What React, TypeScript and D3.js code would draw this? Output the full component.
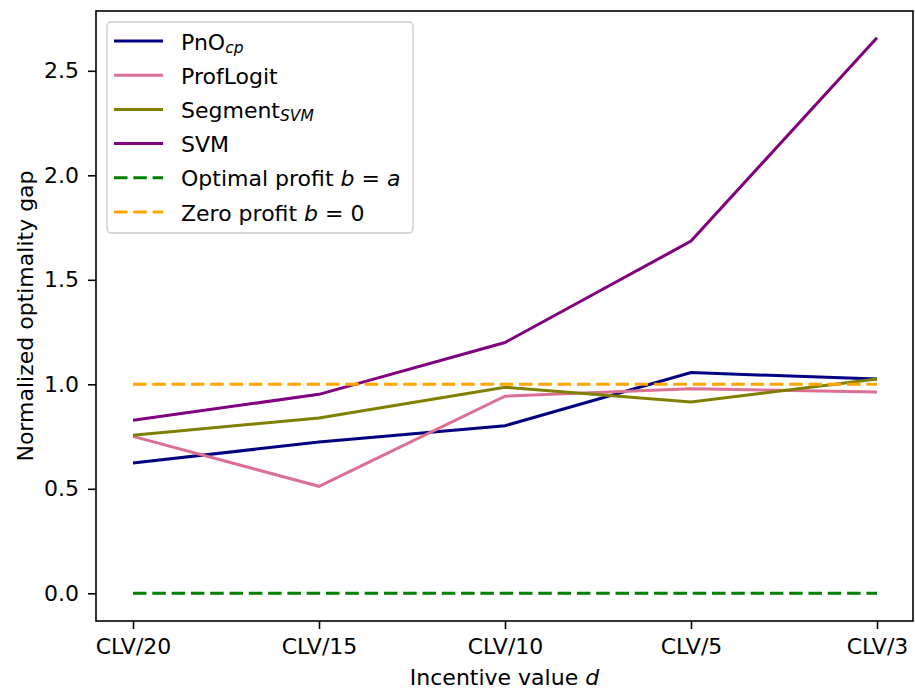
import React, { useEffect, useRef } from 'react';
import * as d3 from 'd3';

const categories = ['CLV/20', 'CLV/15', 'CLV/10', 'CLV/5', 'CLV/3'];
const pnoCp = [0.623, 0.724, 0.802, 1.056, 1.025];
const profLogit = [0.751, 0.512, 0.943, 0.979, 0.963];
const segmentSvm = [0.756, 0.839, 0.986, 0.915, 1.025];
const svm = [0.828, 0.952, 1.2, 1.685, 2.658];
const optimalProfit = [0, 0, 0, 0, 0];
const zeroProfit = [1, 1, 1, 1, 1];
const yTicks = [0, 0.5, 1, 1.5, 2, 2.5];

const series = [
  { name: 'PnO', sub: 'cp', values: pnoCp, color: '#000080', dashed: false },
  { name: 'ProfLogit', sub: '', values: profLogit, color: '#db7093', dashed: false },
  { name: 'Segment', sub: 'SVM', values: segmentSvm, color: '#808000', dashed: false },
  { name: 'SVM', sub: '', values: svm, color: '#800080', dashed: false },
  { name: 'Optimal profit ', math: 'b = a', values: optimalProfit, color: '#008000', dashed: true },
  { name: 'Zero profit ', math: 'b = 0', values: zeroProfit, color: '#ffa500', dashed: true },
];

const App = () => {
  const ref = useRef<SVGSVGElement>(null);
  const width = 915;
  const height = 689;
  const margin = { top: 11, right: 2, bottom: 68, left: 96 };

  useEffect(() => {
    const svg = d3.select(ref.current);
    svg.selectAll('*').remove();
    const font = 'DejaVu Sans, sans-serif';
    const fs = 22;

    const x = d3.scalePoint()
      .domain(categories)
      .range([133, 877]);
    const y = d3.scaleLinear()
      .domain([0, 1])
      .range([593.3, 384.3]);

    const x0 = margin.left;
    const x1 = width - margin.right;
    const y0 = height - margin.bottom;
    const y1 = margin.top;

    // lines
    const line = d3.line<number>()
      .x((_, i) => x(categories[i]) as number)
      .y(d => y(d));

    series.forEach(s => {
      svg.append('path')
        .datum(s.values)
        .attr('d', line)
        .attr('fill', 'none')
        .attr('stroke', s.color)
        .attr('stroke-width', 3)
        .attr('stroke-dasharray', s.dashed ? '13.5,5.8' : null);
    });

    // frame
    svg.append('rect')
      .attr('x', x0).attr('y', y1)
      .attr('width', x1 - x0).attr('height', y0 - y1)
      .attr('fill', 'none').attr('stroke', 'black').attr('stroke-width', 1.6);

    // x axis
    svg.append('g')
      .attr('transform', `translate(0,${y0})`)
      .call(d3.axisBottom(x).tickSize(8).tickPadding(9))
      .call(g => g.select('.domain').remove())
      .call(g => g.selectAll('.tick line').attr('stroke-width', 1.6))
      .call(g => g.selectAll('.tick text')
        .attr('font-family', font).attr('font-size', fs).attr('fill', 'black'));

    // y axis
    svg.append('g')
      .attr('transform', `translate(${x0},0)`)
      .call(d3.axisLeft(y).tickValues(yTicks).tickFormat(d3.format('.1f')).tickSize(8).tickPadding(9))
      .call(g => g.select('.domain').remove())
      .call(g => g.selectAll('.tick line').attr('stroke-width', 1.6))
      .call(g => g.selectAll('.tick text')
        .attr('font-family', font).attr('font-size', fs).attr('fill', 'black'));

    // axis labels
    const xl = svg.append('text')
      .attr('x', (x0 + x1) / 2).attr('y', 685)
      .attr('text-anchor', 'middle')
      .attr('font-family', font).attr('font-size', fs);
    xl.append('tspan').text('Incentive value ');
    xl.append('tspan').attr('font-style', 'italic').text('d');

    svg.append('text')
      .attr('transform', `translate(33,${(y0 + y1) / 2}) rotate(-90)`)
      .attr('text-anchor', 'middle')
      .attr('font-family', font).attr('font-size', fs)
      .text('Normalized optimality gap');

    // legend
    const lg = svg.append('g');
    lg.append('rect')
      .attr('x', 107).attr('y', 22)
      .attr('width', 306).attr('height', 211)
      .attr('rx', 4)
      .attr('fill', 'white').attr('fill-opacity', 0.8)
      .attr('stroke', '#cccccc').attr('stroke-width', 1.4);

    series.forEach((s, i) => {
      const ly = 41 + i * 34.2;
      lg.append('line')
        .attr('x1', 114).attr('x2', 163)
        .attr('y1', ly).attr('y2', ly)
        .attr('stroke', s.color).attr('stroke-width', 3)
        .attr('stroke-dasharray', s.dashed ? '13.5,5.8' : null);
      const t = lg.append('text')
        .attr('x', 181).attr('y', ly + 8.5)
        .attr('font-family', font).attr('font-size', fs);
      t.append('tspan').text(s.name);
      if (s.sub) {
        t.append('tspan')
          .attr('font-style', 'italic').attr('font-size', 15.5).attr('dy', 3.5)
          .text(s.sub);
      }
      if (s.math) {
        const parts = s.math.split(' ');
        t.append('tspan').attr('font-style', 'italic').text(parts[0]);
        t.append('tspan').text(' ' + parts[1] + ' ');
        t.append('tspan').attr('font-style', parts[2] === '0' ? null : 'italic').text(parts[2]);
      }
    });
  }, []);

  return (
    <svg ref={ref} width={width} height={height}
      style={{ position: 'absolute', left: 0, top: 0, background: 'white' }} />
  );
};

export default App;
